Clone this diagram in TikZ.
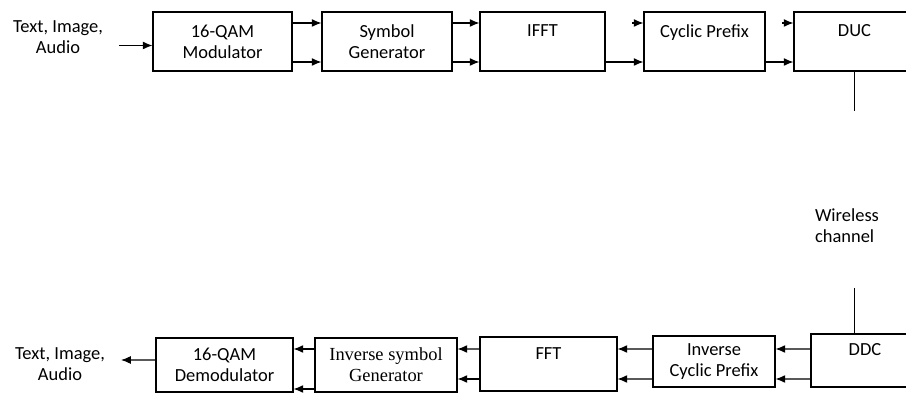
\documentclass[tikz,border=0pt]{standalone}
\usepackage{fontspec}
\setmainfont{Carlito}
\newfontfamily\serifb{Liberation Serif}
\usepackage{tikz}
\usetikzlibrary{arrows.meta}
\tikzset{l/.style={font=\fontsize{10.5}{12}\selectfont}}
\tikzset{s/.style={font=\serifb\fontsize{10.5}{12}\selectfont}}
\tikzset{bx/.style={draw,line width=0.6pt,inner sep=0pt,align=center,l}}
\tikzset{ar/.style={-{Latex[length=5.5pt,width=4.5pt]},line width=0.6pt}}

\begin{document}
\begin{tikzpicture}
          \useasboundingbox (0,0) rectangle (18.12,7.88);
          % transmitter
          \node [l, align=center] (src) at (1.16,7.13) {Text, Image,\\Audio};
          \node [bx, minimum width=2.78cm, minimum height=1.18cm] (TX1) at (4.45,7.05) {16-QAM\\Modulator};
          \node [bx, minimum width=2.6cm, minimum height=1.18cm] (TX2) at (7.74,7.05) {Symbol\\Generator};
          \node [bx, minimum width=2.5cm, minimum height=1.18cm] (TX3) at (10.85,7.05) {IFFT\\~};
          \node [bx, minimum width=2.42cm, minimum height=1.18cm] (TX4) at (14.09,7.05) {Cyclic Prefix\\~};
          \node [bx, minimum width=2.42cm, minimum height=1.18cm] (TX5) at (17.09,7.05) {DUC\\~};
          \draw [ar] ([shift={(0.2,-0.16)}]src.east) -- ([yshift=-0.08cm]TX1.west);
          \draw [ar] ([yshift=0.37cm]TX1.east) -- ([yshift=0.37cm]TX2.west);
          \draw [ar] ([yshift=-0.41cm]TX1.east) -- ([yshift=-0.41cm]TX2.west);
          \draw [ar] ([yshift=0.37cm]TX2.east) -- ([yshift=0.37cm]TX3.west);
          \draw [ar] ([yshift=-0.41cm]TX2.east) -- ([yshift=-0.41cm]TX3.west);
          \draw [ar] ([shift={(-0.22,0.37)}]TX4.west) -- ([yshift=0.37cm]TX4.west);
          \draw [ar] ([yshift=-0.41cm]TX3.east) -- ([yshift=-0.41cm]TX4.west);
          \draw [ar] ([shift={(-0.22,0.37)}]TX5.west) -- ([yshift=0.37cm]TX5.west);
          \draw [ar] ([yshift=-0.41cm]TX4.east) -- ([yshift=-0.41cm]TX5.west);
          % channel
          \coordinate (ch1) at (17.09,5.66);
          \coordinate (ch2) at (17.09,2.12);
          \node [l, align=left] (wch) at (16.94,3.36) {Wireless\\channel};
          % receiver
          \node [bx, minimum width=2.16cm, minimum height=1.06cm] (RX1) at (17.3,0.67) {DDC\\~};
          \node [bx, minimum width=2.44cm, minimum height=1.02cm] (RX2) at (14.28,0.65) {Inverse\\Cyclic Prefix};
          \node [bx, minimum width=2.74cm, minimum height=1.08cm] (RX3) at (10.97,0.6) {FFT\\~};
          \node [bx, s, minimum width=2.84cm, minimum height=1.08cm] (RX4) at (7.72,0.58) {Inverse symbol\\Generator};
          \node [bx, minimum width=2.74cm, minimum height=1.08cm] (RX5) at (4.49,0.58) {16-QAM\\Demodulator};
          \node [l, align=center] (dst) at (1.2,0.6) {Text, Image,\\Audio};
          \draw (TX5.south) -- (ch1);
          \draw (ch2) -- (ch2 |- RX1.north);
          \draw [ar] ([yshift=0.23cm]RX1.west) -- ([yshift=0.25cm]RX2.east);
          \draw [ar] ([yshift=-0.37cm]RX1.west) -- ([yshift=-0.35cm]RX2.east);
          \draw [ar] ([yshift=0.25cm]RX2.west) -- ([yshift=0.3cm]RX3.east);
          \draw [ar] ([yshift=-0.35cm]RX2.west) -- ([yshift=-0.3cm]RX3.east);
          \draw [ar] ([yshift=0.3cm]RX3.west) -- ([yshift=0.32cm]RX4.east);
          \draw [ar] ([yshift=-0.3cm]RX3.west) -- ([yshift=-0.28cm]RX4.east);
          \draw [ar] ([yshift=0.32cm]RX4.west) -- ([yshift=0.32cm]RX5.east);
          \draw [ar] ([yshift=-0.48cm]RX4.west) -- ([yshift=-0.48cm]RX5.east);
          \draw [ar] ([yshift=0.1cm]RX5.west) -- ([shift={(0.2,0.08)}]dst.east);
        \end{tikzpicture}
\end{document}
